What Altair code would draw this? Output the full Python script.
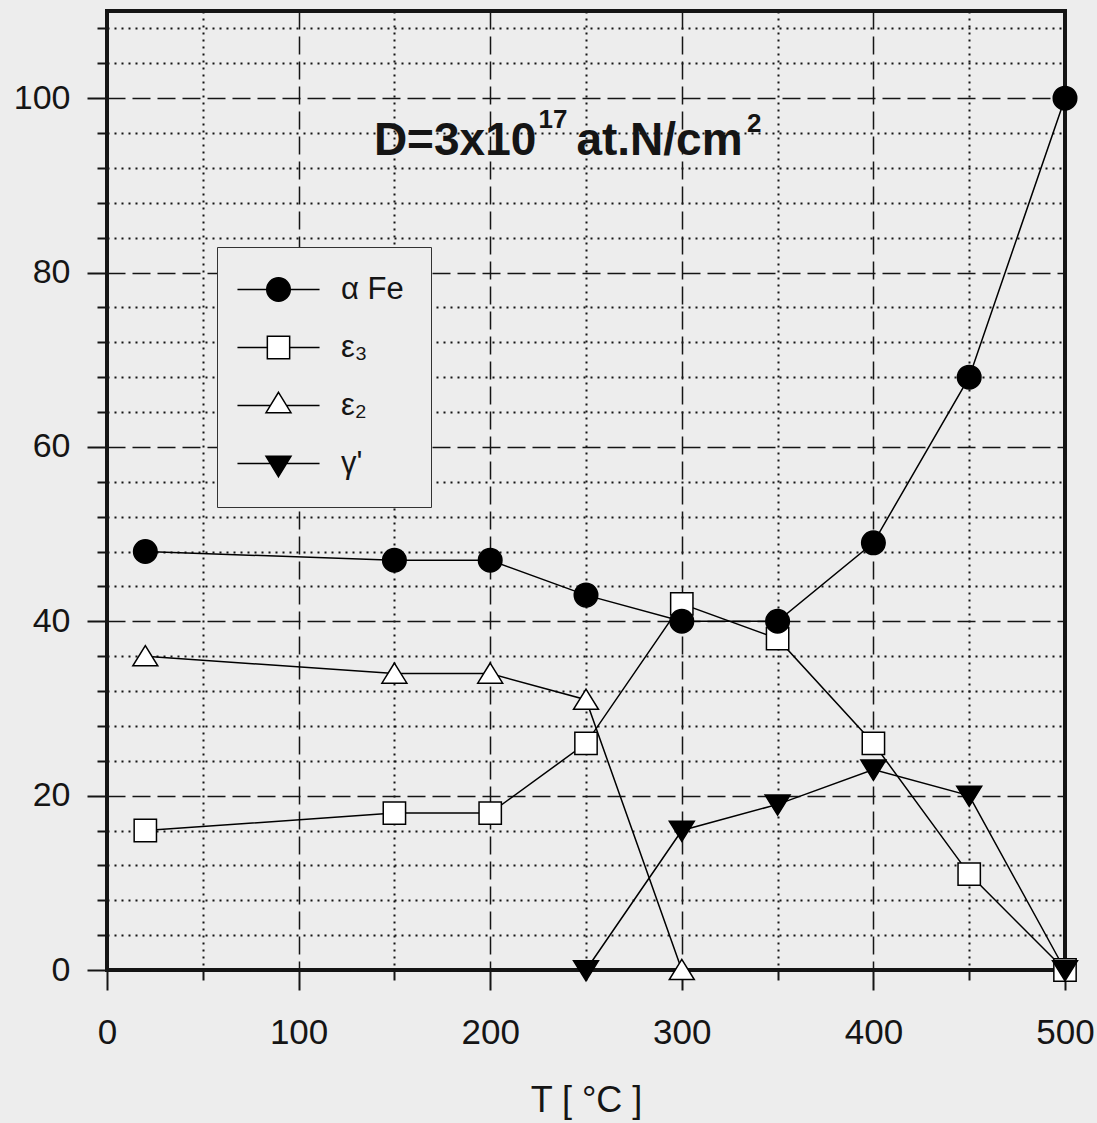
import altair as alt
import pandas as pd

# ---------------- data ----------------
series_names = ["α Fe", "ε₃", "ε₂", "γ'"]

temp_alpha = [20, 150, 200, 250, 300, 350, 400, 450, 500]
val_alpha = [48, 47, 47, 43, 40, 40, 49, 68, 100]

temp_eps3 = [20, 150, 200, 250, 300, 350, 400, 450, 500]
val_eps3 = [16, 18, 18, 26, 42, 38, 26, 11, 0]

temp_eps2 = [20, 150, 200, 250, 300]
val_eps2 = [36, 34, 34, 31, 0]

temp_gamma = [250, 300, 350, 400, 450, 500]
val_gamma = [0, 16, 19, 23, 20, 0]

x_ticks = list(range(0, 501, 50))
y_ticks = list(range(0, 109, 4))

series_data = {
    "α Fe": (temp_alpha, val_alpha),
    "ε₃": (temp_eps3, val_eps3),
    "ε₂": (temp_eps2, val_eps2),
    "γ'": (temp_gamma, val_gamma),
}
draw_order = ["ε₂", "ε₃", "α Fe", "γ'"]
rows = []
for name in draw_order:
    ts, vs = series_data[name]
    for t, v in zip(ts, vs):
        rows.append({"series": name, "T": t, "value": v})
df = pd.DataFrame(rows)

# ---------------- styles ----------------
FONT = "Liberation Sans"
INK = "#151515"
BG = "#ededed"

CIRCLE = "M0.98,0A0.98,0.98,0,1,1,-0.98,0A0.98,0.98,0,1,1,0.98,0Z"
SQUARE = "M-0.93,-0.93H0.93V0.93H-0.93Z"
TRI_UP = "M0,-0.88L1.04,0.8H-1.04Z"
TRI_DOWN = "M0,0.9L1.04,-0.78H-1.04Z"

L = 3.42
LEG_CIRCLE = f"M-{L},0H{L}" + CIRCLE
LEG_SQUARE = f"M-{L},0H-0.93M0.93,0H{L}" + SQUARE
LEG_TRI_UP = f"M-{L},0H-0.67M0.67,0H{L}M0,-1.1L1.04,0.6H-1.04Z"
LEG_TRI_DOWN = f"M-{L},0H{L}M0,1.1L1.04,-0.6H-1.04Z"

fill_range = ["black", "white", "white", "black"]
stroke_range = ["black", "black", "black", "black"]

major_x = "datum.value % 100 === 0"
major_y = "datum.value % 20 === 0"

x_axis = alt.Axis(
    values=x_ticks,
    title="T [ °C ]",
    labelExpr=f"{major_x} ? datum.label : ''",
    labelFlush=False,
    labelOverlap=False,
    labelFont=FONT,
    labelFontSize=35,
    labelColor=INK,
    labelPadding=25,
    tickSize={"condition": {"test": major_x, "value": 20}, "value": 10},
    tickColor=INK,
    tickWidth=2,
    domain=False,
    grid=True,
    gridColor=INK,
    gridDash={"condition": {"test": major_x, "value": [18, 7]}, "value": [2, 5]},
    gridWidth={"condition": {"test": major_x, "value": 1.5}, "value": 2},
    titleFont=FONT,
    titleFontSize=36,
    titleFontWeight="normal",
    titleColor=INK,
    titlePadding=33,
)

y_axis = alt.Axis(
    values=y_ticks,
    title=None,
    labelExpr=f"{major_y} ? datum.label : ''",
    labelOverlap=False,
    labelFont=FONT,
    labelFontSize=34,
    labelColor=INK,
    labelPadding=17,
    tickSize={"condition": {"test": major_y, "value": 20}, "value": 10},
    tickColor=INK,
    tickWidth=2,
    domain=False,
    grid=True,
    gridColor=INK,
    gridDash={"condition": {"test": major_y, "value": [18, 7]}, "value": [2, 5]},
    gridWidth={"condition": {"test": major_y, "value": 1.5}, "value": 2},
)

x_enc = alt.X("T:Q", scale=alt.Scale(domain=[0, 500], nice=False, zero=False), axis=x_axis)
y_enc = alt.Y("value:Q", scale=alt.Scale(domain=[0, 110], nice=False), axis=y_axis)

base = alt.Chart(df)

lines = base.mark_line(color="black", strokeWidth=1.5).encode(
    x=x_enc, y=y_enc, detail="series:N"
)

points = base.mark_point(
    stroke="black", strokeWidth=1.5, size=576, opacity=1, fillOpacity=1
).encode(
    x=x_enc,
    y=y_enc,
    shape=alt.Shape(
        "series:N",
        scale=alt.Scale(domain=series_names, range=[CIRCLE, SQUARE, TRI_UP, TRI_DOWN]),
        legend=None,
    ),
    fill=alt.Fill("series:N", scale=alt.Scale(domain=series_names, range=fill_range), legend=None),
)

leg = alt.Legend(
    title=None,
    orient="none",
    legendX=110,
    legendY=236,
    padding=27,
    rowPadding=26,
    symbolSize=576,
    symbolStrokeWidth=1.5,
    symbolOpacity=1,
    symbolOffset=19,
    labelOffset=47,
    labelFont=FONT,
    labelFontSize=31,
    labelColor=INK,
    strokeColor="#333333",
    fillColor=BG,
)

# legend-only layer: no visible marks (all rows filtered out), scales fixed by domain
legend_layer = base.mark_point(
    strokeWidth=1.5, size=576, opacity=1
).encode(
    x=x_enc,
    y=y_enc,
    shape=alt.Shape(
        "series:N",
        scale=alt.Scale(domain=series_names, range=[LEG_CIRCLE, LEG_SQUARE, LEG_TRI_UP, LEG_TRI_DOWN]),
        legend=leg,
    ),
    fill=alt.Fill("series:N", scale=alt.Scale(domain=series_names, range=fill_range), legend=leg),
    stroke=alt.Stroke("series:N", scale=alt.Scale(domain=series_names, range=stroke_range), legend=leg),
).transform_filter("datum.T < 0")


def note(text, t, v, size):
    return alt.Chart(pd.DataFrame({"T": [t], "value": [v]})).mark_text(
        text=text, font=FONT, fontSize=size, fontWeight="bold", color=INK,
        align="left", baseline="alphabetic",
    ).encode(x=x_enc, y=y_enc)


annotations = [
    note("D=3x10", 139.3, 93.5, 46),
    note("17", 225.2, 96.55, 26),
    note("at.N/cm", 245.0, 93.5, 46),
    note("2", 334.0, 96.16, 26),
]

chart = (
    alt.layer(lines, points, legend_layer, *annotations)
    .resolve_scale(shape="independent", fill="independent", stroke="independent")
    .properties(
        width=958,
        height=959,
        autosize=alt.AutoSizeParams(type="none"),
        padding={"left": 107, "top": 11, "right": 32, "bottom": 153},
        background=BG,
    )
    .configure_view(stroke=INK, strokeWidth=4, fill=BG)
)

chart.save("out.html", embed_options={"renderer": "svg", "actions": False})
